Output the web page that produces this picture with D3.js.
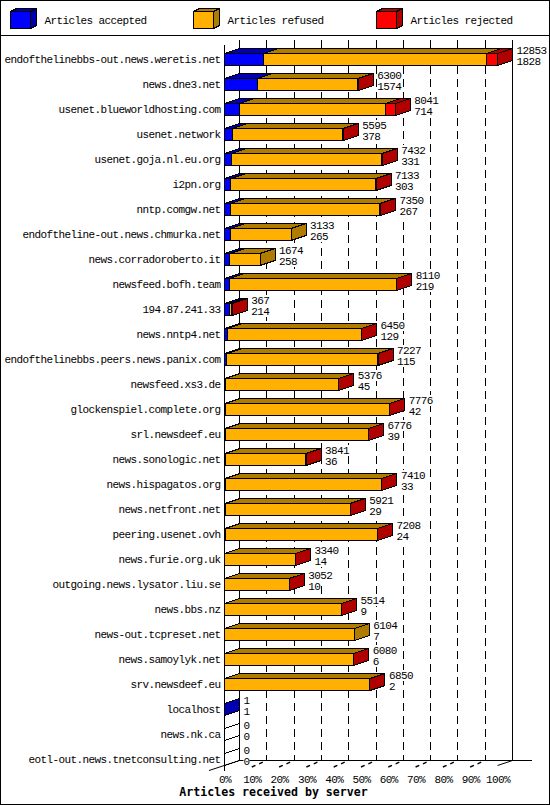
<!DOCTYPE html>
<meta charset="utf-8" />
<script src="https://d3js.org/d3.v7.min.js"></script>
<body style="margin:0;background:#fff">
<svg id="chart" width="550" height="805" style="display:block"></svg>
<script>
/* data -------------------------------------------------------------------- */
const servers=["endofthelinebbs-out.news.weretis.net","news.dne3.net","usenet.blueworldhosting.com",
  "usenet.network","usenet.goja.nl.eu.org","i2pn.org","nntp.comgw.net","endoftheline-out.news.chmurka.net",
  "news.corradoroberto.it","newsfeed.bofh.team","194.87.241.33","news.nntp4.net",
  "endofthelinebbs.peers.news.panix.com","newsfeed.xs3.de","glockenspiel.complete.org","srl.newsdeef.eu",
  "news.sonologic.net","news.hispagatos.org","news.netfront.net","peering.usenet.ovh","news.furie.org.uk",
  "outgoing.news.lysator.liu.se","news.bbs.nz","news-out.tcpreset.net","news.samoylyk.net","srv.newsdeef.eu",
  "localhost","news.nk.ca","eotl-out.news.tnetconsulting.net"];
const totals=[12853,6300,8041,5595,7432,7133,7350,3133,1674,8110,367,6450,7227,5376,7776,6776,3841,7410,5921,7208,3340,3052,5514,6104,6080,6850,1,0,0];
const accepted=[1828,1574,714,378,331,303,267,265,258,219,214,129,115,45,42,39,36,33,29,24,14,10,9,7,6,2,1,0,0];
const refused=[10505,4706,6857,5197,7071,6810,7023,2868,1416,7881,130,6311,7102,5321,7724,6727,3795,7367,5882,7174,3316,3032,5495,6097,6064,6838,0,0,0];
const rejected=[520,20,470,20,30,20,60,0,0,10,23,10,10,10,10,10,10,10,10,10,10,10,10,0,10,10,0,0,0];
const seriesNames=["Articles accepted","Articles refused","Articles rejected"];
const seriesValues=[accepted,refused,rejected];
const fronts=["#0000ff","#ffb000","#ff0000"];
const darks=["#0000b0","#b07c00","#b00000"];
const pctTicks=[0,10,20,30,40,50,60,70,80,90,100];

/* config ------------------------------------------------------------------ */
const dx=15,dy=5,barH=12,barTop=8;
const maxTotal=d3.max(totals);
const pct=d3.scaleLinear().domain([0,100]).range([224.5,497.5]);
const val=d3.scaleLinear().domain([0,maxTotal]).range([224.5,497.5]);
const row=d3.scaleBand().domain(servers).range([45.5,770.5]);
const font="'Liberation Mono',monospace";
const svg=d3.select("#chart").attr("font-family",font).attr("font-size",11).attr("letter-spacing","-0.6px");
const poly=(g,pts,fill)=>g.append("polygon").attr("points",pts.map(p=>p.join(",")).join(" "))
  .attr("fill",fill).attr("stroke","#000").attr("shape-rendering","crispEdges");

/* frame + legend ---------------------------------------------------------- */
svg.append("rect").attr("x",.5).attr("y",.5).attr("width",549).attr("height",804)
  .attr("fill","#fff").attr("stroke","#000");
svg.append("line").attr("x1",0).attr("x2",550).attr("y1",35.5).attr("y2",35.5).attr("stroke","#000");
const legendX=d3.scalePoint().domain(seriesNames).range([10.5,376.5]);
seriesNames.forEach((s,i)=>{
  const g=svg.append("g").attr("transform",`translate(${legendX(s)},11.5)`),w=20,h=17,a=6,b=3;
  poly(g,[[0,0],[a,-b],[w+a,-b],[w,0]],darks[i]);
  poly(g,[[w,0],[w+a,-b],[w+a,h-b],[w,h]],darks[i]);
  poly(g,[[0,0],[w,0],[w,h],[0,h]],fronts[i]);
  g.append("text").attr("x",34).attr("y",8.5).attr("dy",".35em").attr("fill","#000").text(s);
});

/* grid on the back plane -------------------------------------------------- */
const grid=svg.append("g");
pctTicks.forEach(t=>{
  const x=pct(t)+dx,solid=t===0||t===100;
  grid.append("line").attr("x1",x).attr("x2",x).attr("y1",40).attr("y2",760.5).attr("stroke","#000")
    .attr("stroke-dasharray",solid?null:"8 5").attr("shape-rendering","crispEdges");
});
grid.append("line").attr("x1",pct(0)+dx).attr("x2",532).attr("y1",760.5).attr("y2",760.5).attr("stroke","#000");
grid.append("line").attr("x1",209).attr("x2",pct(0)+dx).attr("y1",770.5).attr("y2",760.5).attr("stroke","#000");
grid.append("line").attr("x1",pct(100)).attr("x2",pct(100)+dx).attr("y1",765.5).attr("y2",760.5).attr("stroke","#000");
pctTicks.slice(1,-1).forEach(t=>{
  const x=pct(t);
  grid.append("line").attr("x1",x).attr("x2",x+dx).attr("y1",767).attr("y2",760.5)
    .attr("stroke","#000").attr("stroke-width",1.4).attr("stroke-dasharray","4 4 4 6");
});

/* bars -------------------------------------------------------------------- */
const bars=svg.append("g");
const putLabel=(x,y,v)=>{
  // labels knock the grid out behind them
  const w=String(v).length*6;
  bars.append("rect").attr("x",x).attr("y",y-5.5).attr("width",w).attr("height",11).attr("fill","#fff");
  bars.append("text").attr("x",x).attr("y",y).attr("dy",".35em").attr("fill","#000").text(v);
};
servers.forEach((s,i)=>{
  const top=row(s)+barTop,bot=top+barH;
  let sum=0,lastX=val(0),lastDark=null;
  const segs=[];
  seriesValues.forEach((v,k)=>{
    const x0=val(sum),x1=val(sum+v[i]);
    if(v[i]>0){segs.push({x0,x1,k});lastX=x1;lastDark=darks[k];}
    sum+=v[i];
  });
  segs.forEach(d=>poly(bars,[[d.x0,top],[d.x0+dx,top-dy],[d.x1+dx,top-dy],[d.x1,top]],darks[d.k]));
  // zero rows still leave the two edges of an empty bar
  poly(bars,[[lastX,top],[lastX+dx,top-dy],[lastX+dx,bot-dy],[lastX,bot]],lastDark||"none");
  segs.forEach(d=>poly(bars,[[d.x0,top],[d.x1,top],[d.x1,bot],[d.x0,bot]],fronts[d.k]));
  // value labels: total over accepted
  putLabel(lastX+dx+4,top-3,totals[i]);
  putLabel(lastX+dx+4,top+8,accepted[i]);
});

/* front axis + labels ----------------------------------------------------- */
svg.append("line").attr("x1",pct(0)).attr("x2",pct(0)).attr("y1",45).attr("y2",770.5)
  .attr("stroke","#000").attr("shape-rendering","crispEdges");

const yAxis=svg.append("g").attr("transform",`translate(${pct(0)-1},1.5)`)
  .call(d3.axisLeft(row).tickSize(0).tickPadding(3));
yAxis.select(".domain").remove();
yAxis.selectAll("text").attr("fill","#000").attr("font-family",font).attr("font-size",11);

const xAxis=svg.append("g").attr("transform","translate(0,772)")
  .call(d3.axisBottom(pct).tickValues(pctTicks).tickFormat(d=>d+"%").tickSize(0).tickPadding(3));
xAxis.select(".domain").remove();
xAxis.selectAll("text").attr("fill","#000").attr("font-family",font).attr("font-size",11);

svg.append("text").attr("x",273.5).attr("y",792).attr("dy",".35em").attr("text-anchor","middle")
  .attr("font-family","'DejaVu Sans Mono',monospace").attr("letter-spacing",0)
  .attr("font-weight","bold").attr("font-size",11.6).attr("fill","#000").text("Articles received by server");
</script>
</body>
